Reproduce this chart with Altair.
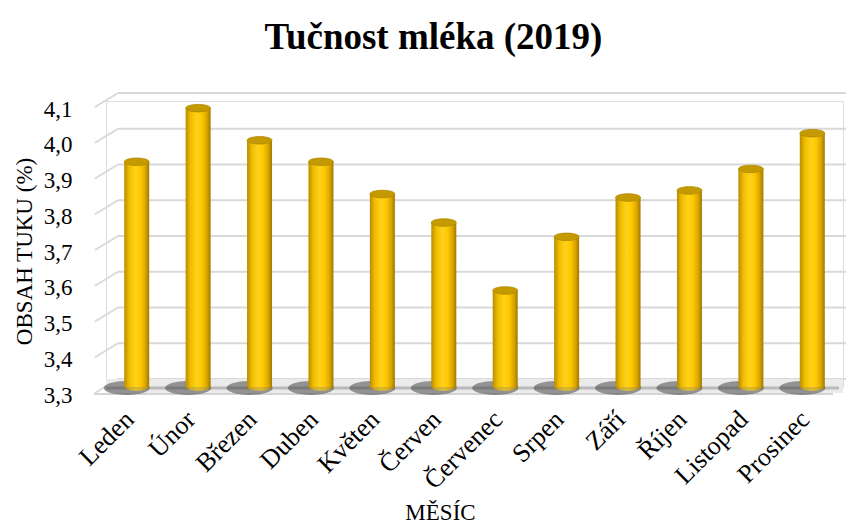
import altair as alt
import pandas as pd

months = ["Leden", "Únor", "Březen", "Duben", "Květen", "Červen",
          "Červenec", "Srpen", "Září", "Říjen", "Listopad", "Prosinec"]
fat = [3.93, 4.08, 3.99, 3.93, 3.84, 3.76, 3.57, 3.72, 3.83, 3.85, 3.91, 4.01]
ticks = [3.3, 3.4, 3.5, 3.6, 3.7, 3.8, 3.9, 4.0, 4.1]
base_value = 3.3

df = pd.DataFrame({"mesic": months, "tuk": fat, "base": [base_value] * len(months)})
grid_df = pd.DataFrame({"v": ticks})
floor_df = pd.DataFrame({"v": [base_value]})

FONT = "Liberation Serif"
W, H = 737, 286

xaxis = alt.Axis(title="MĚSÍC", labelAngle=-45, labelAlign="right", labelBaseline="middle",
                 labelFont=FONT, labelFontSize=26, labelColor="#000000", labelPadding=28,
                 labelOffset=-7, labelOverlap=False, labelBound=False,
                 domain=False, ticks=False, titleFont=FONT, titleFontSize=23,
                 titleFontWeight="normal", titleColor="#000000", titleX=334, titleY=132,
                 titleAlign="center", titleBaseline="alphabetic")
xscale = alt.Scale(paddingInner=0.0, paddingOuter=0.0)

def xn():
    return alt.X("mesic:N", sort=months, scale=xscale, axis=xaxis)

yscale = alt.Scale(domain=[3.3, 4.1], zero=False, nice=False)
yaxis = alt.Axis(title="OBSAH TUKU (%)", values=ticks,
                 labelExpr="replace(format(datum.value, '.1f'), '.', ',')",
                 labelFont=FONT, labelFontSize=23, labelColor="#000000", labelPadding=34, labelOffset=8,
                 labelOverlap=False, labelBound=False,
                 grid=False, domain=False, ticks=False, titleFont=FONT, titleFontSize=23,
                 titleFontWeight="normal", titleColor="#000000", titleX=-75, titleY=150,
                 titleAngle=-90, titleAlign="center", titleBaseline="alphabetic")

def yq(field):
    return alt.Y(field, scale=yscale, axis=yaxis)

# back wall gridlines
grid = alt.Chart(grid_df).mark_rule(color="#d9d9d9", strokeWidth=2, yOffset=-8).encode(
    y=yq("v:Q"), x=alt.value(12), x2=alt.value(W + 3),
)
# side wall diagonals
diag = alt.Chart(grid_df).mark_rule(color="#d9d9d9", strokeWidth=2, yOffset=-8, y2Offset=6).encode(
    y=yq("v:Q"), y2="v:Q", x=alt.value(12), x2=alt.value(-11),
)

# floor
floor = alt.Chart(floor_df).mark_rule(color="#ebebeb", strokeWidth=14, yOffset=-1).encode(
    y=yq("v:Q"), x=alt.value(0), x2=alt.value(W))
floor_edge = alt.Chart(floor_df).mark_rule(color="#d4d4d4", strokeWidth=2, yOffset=7).encode(
    y=yq("v:Q"), x=alt.value(-12), x2=alt.value(W - 10))
shadow_band = alt.Chart(floor_df).mark_rule(color="#9a9a9a", strokeWidth=3, yOffset=1, opacity=0.6).encode(
    y=yq("v:Q"), x=alt.value(0), x2=alt.value(W - 4))

ellipse = "M-1,0A1,0.3,0,1,1,1,0A1,0.3,0,1,1,-1,0Z"
shadow = alt.Chart(df).mark_point(shape=ellipse, filled=True, color="#3a3a3a", opacity=0.5,
                                  size=46 * 46, strokeWidth=0, xOffset=-10, yOffset=1).encode(
    x=xn(), y=yq("base:Q"))

grad = alt.Gradient(gradient="linear", x1=0, x2=1, y1=0, y2=0, stops=[
    alt.GradientStop(color="#b98c00", offset=0),
    alt.GradientStop(color="#f0bd00", offset=0.2),
    alt.GradientStop(color="#ffd21a", offset=0.45),
    alt.GradientStop(color="#ffc800", offset=0.65),
    alt.GradientStop(color="#d9a600", offset=0.85),
    alt.GradientStop(color="#a07800", offset=1),
])
bars = alt.Chart(df).mark_bar(size=25, color=grad).encode(
    x=xn(), y=yq("tuk:Q"), y2="base:Q")
bottom_cap = alt.Chart(df).mark_point(shape=ellipse, filled=True, color=grad, size=625,
                                      strokeWidth=0).encode(
    x=xn(), y=yq("base:Q"))
top_cap = alt.Chart(df).mark_point(shape=ellipse, filled=True, color="#c49a00", size=625,
                                   stroke="#b08a00", strokeWidth=0.8, opacity=1).encode(
    x=xn(), y=yq("tuk:Q"))

chart = alt.layer(grid, diag, floor, floor_edge, shadow_band, shadow, bars, bottom_cap, top_cap).properties(
    width=W, height=H,
    title=alt.TitleParams("Tučnost mléka (2019)", font=FONT, fontSize=37, fontWeight="bold",
                          color="#000000", anchor="middle", dx=-41, offset=35),
    padding={"left": 106, "top": 101, "right": 3, "bottom": 138},
    autosize=alt.AutoSizeParams(type="none"),
).configure_view(stroke=None).configure(background="#ffffff")

chart.save("out.html", embed_options={"renderer": "svg", "actions": False})
